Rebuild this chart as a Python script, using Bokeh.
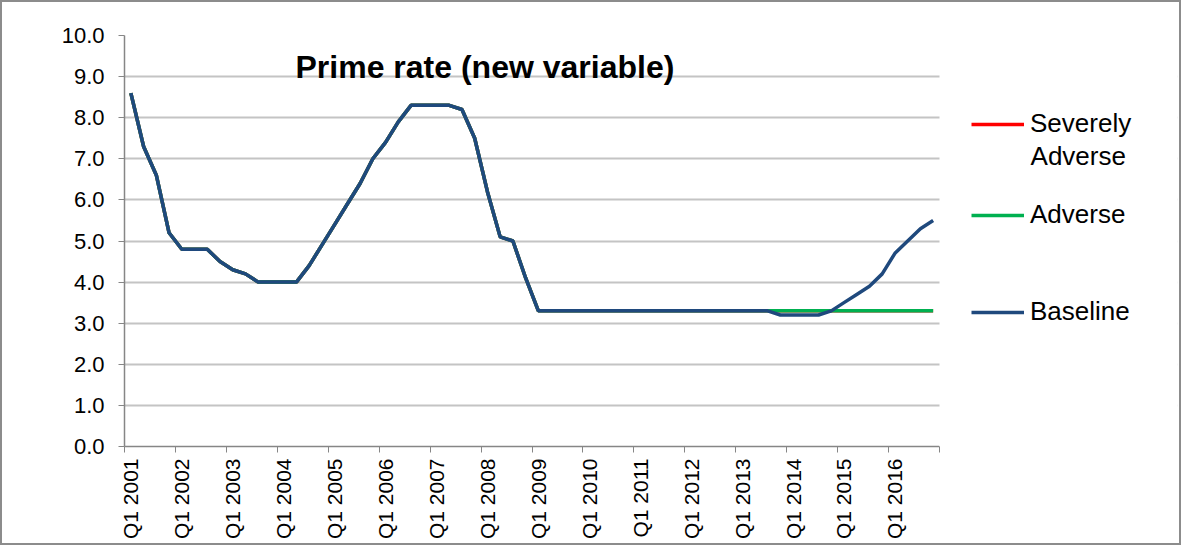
from bokeh.plotting import figure
from bokeh.models import (ColumnDataSource, Legend, LegendItem, Label, FixedTicker,
                          Range1d, NumeralTickFormatter, BoxAnnotation)
from bokeh.embed import file_html
from bokeh.resources import INLINE

years = list(range(2001, 2017))
quarter_labels = [f"Q{q}\u00a0{y}" for y in years for q in range(1, 5)]

# History 2001 Q1 - 2013 Q3 (shared by all scenarios)
history = [8.6, 7.3, 6.6, 5.2,
           4.8, 4.8, 4.8, 4.5,
           4.3, 4.2, 4.0, 4.0,
           4.0, 4.0, 4.4, 4.9,
           5.4, 5.9, 6.4, 7.0,
           7.4, 7.9, 8.3, 8.3,
           8.3, 8.3, 8.2, 7.5,
           6.2, 5.1, 5.0, 4.1,
           3.3, 3.3, 3.3, 3.3,
           3.3, 3.3, 3.3, 3.3,
           3.3, 3.3, 3.3, 3.3,
           3.3, 3.3, 3.3, 3.3,
           3.3, 3.3, 3.3]
# Projections 2013 Q4 - 2016 Q4
baseline_proj = [3.2, 3.2, 3.2, 3.2, 3.3, 3.5, 3.7, 3.9, 4.2, 4.7, 5.0, 5.3, 5.5]
adverse_proj = [3.3, 3.3, 3.3, 3.3, 3.3, 3.3, 3.3, 3.3, 3.3, 3.3, 3.3, 3.3, 3.3]
severely_proj = [3.3, 3.3, 3.3, 3.3, 3.3, 3.3, 3.3, 3.3, 3.3, 3.3, 3.3, 3.3, 3.3]

baseline = history + baseline_proj
adverse = history + adverse_proj
severely = history + severely_proj
idx = list(range(len(quarter_labels)))
n = len(idx)

src = ColumnDataSource(dict(x=idx, label=quarter_labels, base=baseline,
                            adv=adverse, sev=severely))

FONT = "Liberation Sans"
AXIS_GRAY = "#868686"

CANVAS_W, CANVAS_H = 1181, 545
BL, BR, BT, BB = 122, 6, 33, 101
PX_PER_Q = 815 / 64.0
frame_w = CANVAS_W - BL - BR
x_end = -0.5 + frame_w / PX_PER_Q

p = figure(width=CANVAS_W, height=CANVAS_H, output_backend="svg", toolbar_location=None,
           x_range=Range1d(-0.5, x_end), y_range=Range1d(0, 10),
           min_border_left=BL, min_border_right=BR, min_border_top=BT,
           min_border_bottom=BB, background_fill_color="white",
           border_fill_color="white", outline_line_color=None,
           styles={"border": "2px solid #8c8c8c"})

r_sev = p.line("x", "sev", source=src, line_color="#FF0000", line_width=3.5)
r_adv = p.line("x", "adv", source=src, line_color="#00B050", line_width=3.5)
r_base = p.line("x", "base", source=src, line_color="#1F497D", line_width=3.5)

# x axis: labels at every 4th quarter, tick marks between categories
label_pos = [i for i in idx if i % 4 == 0]
xa = p.xaxis[0]
xa.bounds = (-0.5, n - 0.5)
xa.ticker = FixedTicker(ticks=label_pos, minor_ticks=[i - 0.5 for i in label_pos] + [n - 0.5])
xa.major_label_overrides = {i: quarter_labels[i] for i in label_pos}
xa.major_label_orientation = 1.5707963
xa.major_tick_out = 0
xa.major_tick_in = 0
xa.minor_tick_out = 6
xa.minor_tick_in = 0
xa.minor_tick_line_color = AXIS_GRAY
xa.axis_line_color = AXIS_GRAY
xa.axis_line_width = 1.5
xa.major_label_text_font = FONT
xa.major_label_text_font_size = "21px"
xa.major_label_text_color = "black"
xa.major_label_standoff = 6

ya = p.yaxis[0]
ya.ticker = FixedTicker(ticks=list(range(0, 11)), minor_ticks=[])
ya.formatter = NumeralTickFormatter(format="0.0")
ya.major_tick_out = 6
ya.major_tick_in = 0
ya.major_tick_line_color = AXIS_GRAY
ya.axis_line_color = AXIS_GRAY
ya.axis_line_width = 1.5
ya.major_label_text_font = FONT
ya.major_label_text_font_size = "22px"
ya.major_label_text_color = "black"
ya.major_label_standoff = 14

p.xgrid.grid_line_color = None
p.ygrid.grid_line_color = "#C4C4C4"
p.ygrid.grid_line_width = 2

# blank out the legend area to the right of the plot area
p.add_layout(BoxAnnotation(left=n - 0.5, right=x_end + 5, bottom=0, top=10.5,
                           fill_color="white", fill_alpha=1, line_alpha=0))

# title inside the plot area
p.add_layout(Label(x=12.93, y=9.23, text="Prime rate (new variable)",
                   text_font=FONT, text_font_size="32px", text_font_style="bold",
                   text_color="black", text_baseline="alphabetic"))

def make_legend(name, renderer, loc):
    lg = Legend(items=[LegendItem(label=name, renderers=[renderer])], location=loc,
                padding=0, margin=0, border_line_alpha=0, background_fill_alpha=0,
                glyph_width=53, glyph_height=30, label_height=30, label_standoff=6,
                label_text_font=FONT, label_text_font_size="26px",
                label_text_color="black")
    p.add_layout(lg, "center")

make_legend("Severely", r_sev, (847, 307))
make_legend("Adverse", r_adv, (847, 216))
make_legend("Baseline", r_base, (847, 119))
p.add_layout(Label(x=70.65, y=7.056, text="Adverse", text_font=FONT,
                   text_font_size="26px", text_color="black", text_baseline="middle"))

open("out.html", "w").write(file_html(p, INLINE))
